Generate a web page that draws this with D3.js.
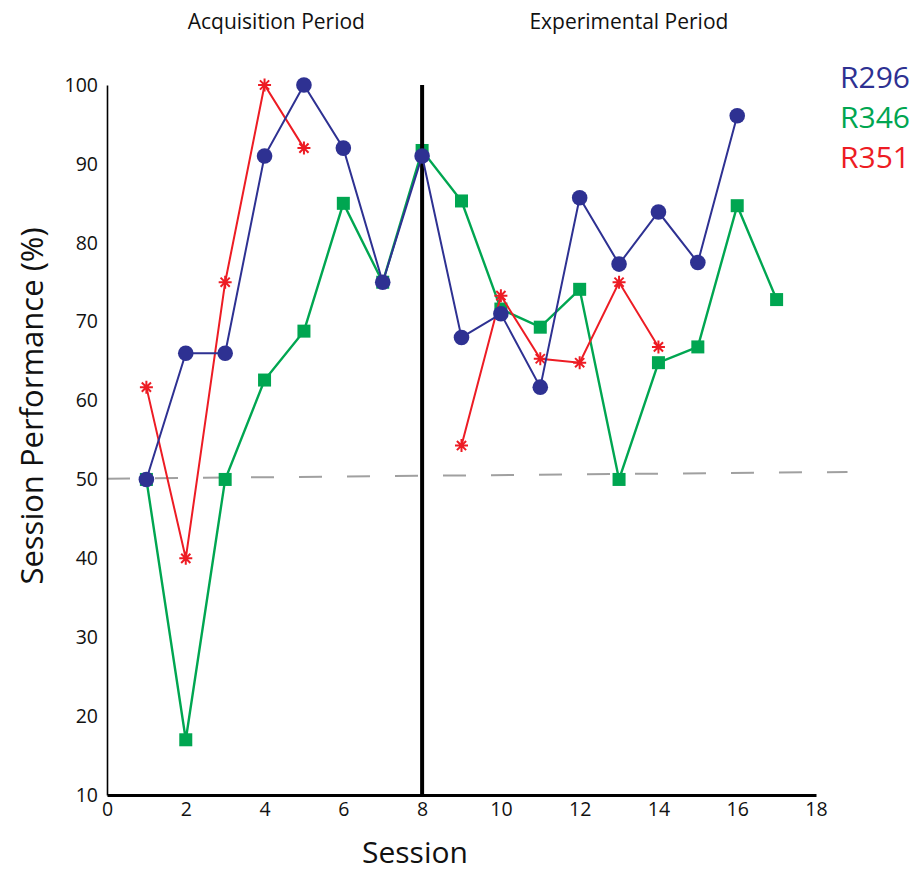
<!DOCTYPE html>
<html>
<head>
<meta charset="utf-8">
<script src="https://cdn.jsdelivr.net/npm/d3@7"></script>
<style>
  html, body { margin: 0; padding: 0; background: #fff; }
  svg { display: block; }
  text { font-family: "Open Sans", "Noto Sans", sans-serif; fill: #111; }
</style>
</head>
<body>
<svg id="chart" width="917" height="872"></svg>
<script>
// ---- data ----
const sessions = [1, 2, 3, 4, 5, 6, 7, 8, 9, 10, 11, 12, 13, 14, 15, 16, 17];
const r296 = [50, 66, 66, 91, 100, 92, 75, 91, 68, 71, 61.7, 85.7, 77.3, 83.9, 77.5, 96.1, null];
const r346 = [50, 17, 50, 62.6, 68.8, 85, 75, 91.7, 85.3, 71.6, 69.3, 74.1, 50, 64.8, 66.8, 84.7, 72.8];
const r351 = [61.7, 40, 75, 100, 92, null, null, null, 54.3, 73.3, 65.3, 64.8, 75, 66.8, null, null, null];
const seriesNames = ["R296", "R346", "R351"];
const xTicks = [0, 2, 4, 6, 8, 10, 12, 14, 16, 18];
const yTicks = [10, 20, 30, 40, 50, 60, 70, 80, 90, 100];
const periodLabels = ["Acquisition Period", "Experimental Period"];
const periodCenters = [4.3, 13.25];      // session position of each period label
const periodBoundary = 8;                // session where the vertical divider sits
const chanceX = [0, 18.8];               // chance line (hand-drawn, slightly tilted)
const chanceY = [50.1, 50.95];

// ---- styles ----
const colors = { R296: "#2e3192", R346: "#00a651", R351: "#ed1c24" };

const svg = d3.select("#chart");
const x = d3.scaleLinear().domain([0, 18]).range([107, 816]);
const y = d3.scaleLinear().domain([10, 100]).range([795, 85]);

// chance line
svg.append("line")
  .attr("x1", x(chanceX[0])).attr("y1", y(chanceY[0]))
  .attr("x2", x(chanceX[1])).attr("y2", y(chanceY[1]))
  .attr("stroke", "#a0a0a0").attr("stroke-width", 2)
  .attr("stroke-dasharray", "23,25");

// y axis
const yAxis = svg.append("g").attr("transform", `translate(${x(0)},0)`)
  .call(d3.axisLeft(y).tickValues(yTicks).tickSize(0).tickPadding(9));
yAxis.select(".domain").attr("stroke", "#000").attr("stroke-width", 1.6);
yAxis.selectAll("text").style("font-family", '"Open Sans", sans-serif')
  .style("font-size", "19.5px").attr("fill", "#111");

// x axis
const xAxis = svg.append("g").attr("transform", `translate(0,${y(10)})`)
  .call(d3.axisBottom(x).tickValues(xTicks).tickSize(0).tickPadding(7));
xAxis.select(".domain").attr("stroke", "#000").attr("stroke-width", 3);
xAxis.selectAll("text").style("font-family", '"Open Sans", sans-serif')
  .style("font-size", "19.5px").attr("fill", "#111");

// period labels
svg.selectAll("text.period").data(periodLabels).enter().append("text")
  .attr("class", "period")
  .attr("x", (d, i) => x(periodCenters[i]))
  .attr("y", 29)
  .attr("text-anchor", "middle")
  .style("font-size", "21px")
  .text(d => d);

// axis titles
svg.append("text")
  .attr("transform", `translate(43,${406}) rotate(-90)`)
  .attr("text-anchor", "middle")
  .style("font-size", "31px")
  .text("Session Performance (%)");
svg.append("text")
  .attr("x", 415).attr("y", 863)
  .attr("text-anchor", "middle")
  .style("font-size", "30px")
  .text("Session");

function pts(vals) {
  return sessions.map((s, i) => ({ s, v: vals[i] }));
}
const line = d3.line().defined(d => d.v != null).x(d => x(d.s)).y(d => y(d.v));

// R346 (green squares)
const g346 = pts(r346);
svg.append("path").datum(g346).attr("d", line)
  .attr("fill", "none").attr("stroke", colors.R346).attr("stroke-width", 2.4);
svg.selectAll("rect.r346").data(g346.filter(d => d.v != null)).enter().append("rect")
  .attr("class", "r346")
  .attr("x", d => x(d.s) - 6.5).attr("y", d => y(d.v) - 6.5)
  .attr("width", 13).attr("height", 13)
  .attr("fill", colors.R346);

// R351 (red asterisks)
const g351 = pts(r351);
svg.append("path").datum(g351).attr("d", line)
  .attr("fill", "none").attr("stroke", colors.R351).attr("stroke-width", 2);
const star = d3.path();
const R = 6.5;
for (let k = 0; k < 4; k++) {
  const a = k * Math.PI / 4;
  star.moveTo(-R * Math.cos(a), -R * Math.sin(a));
  star.lineTo(R * Math.cos(a), R * Math.sin(a));
}
svg.selectAll("path.r351").data(g351.filter(d => d.v != null)).enter().append("path")
  .attr("class", "r351")
  .attr("transform", d => `translate(${x(d.s)},${y(d.v)})`)
  .attr("d", star.toString())
  .attr("stroke", colors.R351).attr("stroke-width", 2).attr("fill", "none");

// vertical divider
svg.append("line")
  .attr("x1", x(periodBoundary)).attr("x2", x(periodBoundary))
  .attr("y1", y(100)).attr("y2", y(10))
  .attr("stroke", "#000").attr("stroke-width", 4);

// R296 (blue circles)
const g296 = pts(r296);
svg.append("path").datum(g296).attr("d", line)
  .attr("fill", "none").attr("stroke", colors.R296).attr("stroke-width", 2);
svg.selectAll("circle.r296").data(g296.filter(d => d.v != null)).enter().append("circle")
  .attr("class", "r296")
  .attr("cx", d => x(d.s)).attr("cy", d => y(d.v)).attr("r", 7.8)
  .attr("fill", colors.R296);

// legend
svg.selectAll("text.legend").data(seriesNames).enter().append("text")
  .attr("class", "legend")
  .attr("x", 840)
  .attr("y", (d, i) => 88 + i * 40)
  .style("font-size", "30px")
  .style("fill", d => colors[d])
  .text(d => d);
</script>
</body>
</html>
